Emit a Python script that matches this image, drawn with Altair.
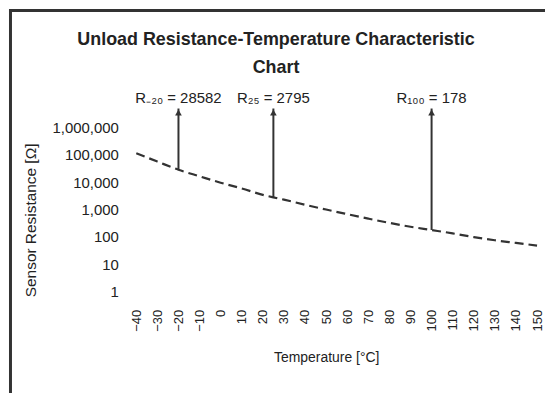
import altair as alt
import pandas as pd

# Curve data (temperature in °C, resistance in Ω)
temps = [-40, -30, -20, -10, 0, 10, 20, 25, 30, 40, 50, 60, 70, 80, 90, 100, 110, 120, 130, 140, 150]
resist = [115000, 57000, 28582, 16500, 9600, 5900, 3450, 2795, 2300, 1500, 1000, 680, 466, 325, 235, 178, 134, 98, 75, 60, 48]

# Annotated points
ann_temps = [-20, 25, 100]
ann_values = [28582, 2795, 178]
ann_labels = ["R₋₂₀ = 28582", "R₂₅ = 2795", "R₁₀₀ = 178"]

# Axis ticks
x_ticks = list(range(-40, 151, 10))
y_ticks = [1, 10, 100, 1000, 10000, 100000, 1000000]
y_top = 5000000

FONT = "Liberation Sans"
DARK = "#222222"

curve_df = pd.DataFrame({"T": temps, "R": resist})
ann_df = pd.DataFrame({"T": ann_temps, "R": ann_values, "label": ann_labels,
                       "top": [y_top] * len(ann_temps)})

xscale = alt.Scale(domain=[-40, 150], nice=False, zero=False)
yscale = alt.Scale(type="log", domain=[1, y_top], nice=False)

x_axis = alt.Axis(values=x_ticks, labelAngle=270, domain=False, ticks=False, grid=False,
                  labelOverlap=False, labelBound=False, labelFlush=False,
                  labelPadding=18, labelFontSize=13, labelFont=FONT, labelColor=DARK,
                  title="Temperature [°C]", titleFont=FONT, titleFontSize=14,
                  titleFontWeight="normal", titleColor=DARK,
                  titleX=191, titleY=66, titleAlign="center", titleBaseline="middle")
y_axis = alt.Axis(values=y_ticks, format=",", domain=False, ticks=False, grid=False,
                  labelOverlap=False,
                  labelPadding=18, labelFontSize=15, labelFont=FONT, labelColor=DARK,
                  title="Sensor Resistance [Ω]", titleFont=FONT, titleFontSize=15.5,
                  titleFontWeight="normal", titleColor=DARK,
                  titleAngle=270, titleX=-106, titleY=112,
                  titleAlign="center", titleBaseline="middle")

X = alt.X("T:Q", scale=xscale, axis=x_axis)
Y = alt.Y("R:Q", scale=yscale, axis=y_axis)
Ytop = alt.Y("top:Q", scale=yscale, axis=y_axis)

curve = alt.Chart(curve_df).mark_line(
    color="#333333", strokeWidth=2.2, strokeDash=[9, 5], interpolate="monotone"
).encode(x=X, y=Y)

arrows = alt.Chart(ann_df).mark_rule(color="#333333", strokeWidth=2).encode(
    x=X, y=Y, y2="top:Q",
)

heads = alt.Chart(ann_df).mark_point(
    shape="triangle-up", filled=True, size=45, color="#333333", opacity=1
).encode(x=X, y=Ytop, yOffset=alt.value(4))

labels = alt.Chart(ann_df).mark_text(
    font=FONT, fontSize=15, color=DARK, dy=-11, align="center", baseline="middle"
).encode(x=X, y=Ytop, text="label:N")

one = pd.DataFrame({"a": [0]})
left_border = alt.Chart(one).mark_rule(color="#333333", strokeWidth=3).encode(
    x=alt.value(-126.5), y=alt.value(-100), y2=alt.value(286)
)
top_border = alt.Chart(one).mark_rule(color="#333333", strokeWidth=3).encode(
    x=alt.value(-128), x2=alt.value(411), y=alt.value(-98.5)
)

chart = alt.layer(curve, arrows, heads, labels, left_border, top_border).properties(
    width=403,
    height=184,
    autosize=alt.AutoSizeParams(type="none"),
    padding={"left": 129, "top": 100, "right": 8, "bottom": 102},
    background="white",
    title=alt.TitleParams(
        ["Unload Resistance-Temperature Characteristic", "Chart"],
        font=FONT, fontSize=18, fontWeight="bold", color=DARK,
        anchor="middle", frame="group", dx=-61, lineHeight=28, offset=-70,
    ),
).configure_view(stroke=None)

chart.save("out.html", embed_options={"renderer": "svg", "actions": False})
